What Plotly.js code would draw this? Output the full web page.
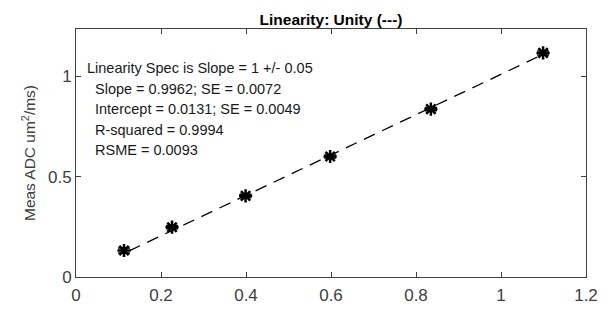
<!DOCTYPE html>
<html>
<head>
<meta charset="utf-8">
<script src="https://cdn.plot.ly/plotly-3.0.1.min.js"></script>
<style>html,body{margin:0;padding:0;background:#fff;}#chart{width:613px;height:314px;}</style>
</head>
<body>
<div id="chart"></div>
<script>
// Data
var trueADC = [0.113, 0.226, 0.399, 0.598, 0.835, 1.099];
var measADC = [0.132, 0.248, 0.404, 0.600, 0.836, 1.116];
var measErr = [0.012, 0.008, 0.008, 0.008, 0.008, 0.010];
var lineX = [0.125, 1.100];
var lineY = [0.130, 1.110];
var statsLines = [
  "Linearity Spec is Slope = 1 +/- 0.05",
  "Slope = 0.9962; SE = 0.0072",
  "Intercept = 0.0131; SE = 0.0049",
  "R-squared = 0.9994",
  "RSME = 0.0093"
];
var xTicks = [0, 0.2, 0.4, 0.6, 0.8, 1, 1.2];
var xTickText = ["0", "0.2", "0.4", "0.6", "0.8", "1", "1.2"];
var yTicks = [0, 0.5, 1];
var yTickText = ["0", "0.5", "1"];

var FONT = "Liberation Sans, Arial, sans-serif";
var annY = [1.042, 0.938, 0.836, 0.733, 0.630];
var annX = [0.020, 0.041, 0.041, 0.041, 0.041];
var annotations = statsLines.map(function (t, i) {
  return {text: t, x: annX[i], y: annY[i], xref: 'x', yref: 'y',
    xanchor: 'left', yanchor: 'middle', showarrow: false,
    font: {family: FONT, size: 14.5, color: '#1a1a1a'}};
});

var traces = [
  {x: lineX, y: lineY, mode: 'lines', type: 'scatter',
   line: {color: '#000', width: 1.3, dash: '12px,8px'}, hoverinfo: 'skip'},
  {x: trueADC, y: measADC, mode: 'markers', type: 'scatter',
   marker: {symbol: 'asterisk-open', size: 11, color: '#000', line: {color: '#000', width: 2.5}},
   error_y: {type: 'data', array: measErr, visible: true, color: '#000', thickness: 1.5, width: 6}}
];

var axisCommon = {
  showgrid: false, zeroline: false, showline: true, linecolor: '#404040', linewidth: 1,
  mirror: 'ticks', ticks: 'inside', ticklen: 5, tickcolor: '#404040', tickwidth: 1,
  tickfont: {family: FONT, size: 17, color: '#404040'}
};

var layout = {
  width: 613, height: 314,
  margin: {l: 76, r: 27, t: 29, b: 37},
  paper_bgcolor: '#fff', plot_bgcolor: '#fff',
  showlegend: false,
  title: {text: '<b>Linearity: Unity (---)</b>', x: 0.5, xref: 'paper', y: 0.955, yref: 'container',
          font: {family: FONT, size: 15.5, color: '#000'}},
  xaxis: Object.assign({}, axisCommon, {range: [0, 1.2], tickvals: xTicks, ticktext: xTickText, ticklabelstandoff: 3}),
  yaxis: Object.assign({}, axisCommon, {range: [0, 1.235], tickvals: yTicks, ticktext: yTickText,
    title: {text: 'Meas ADC um<sup>2</sup>/ms)', standoff: 8, font: {family: FONT, size: 15.5, color: '#404040'}}}),
  annotations: annotations
};

Plotly.newPlot('chart', traces, layout, {displayModeBar: false, staticPlot: true});
</script>
</body>
</html>
